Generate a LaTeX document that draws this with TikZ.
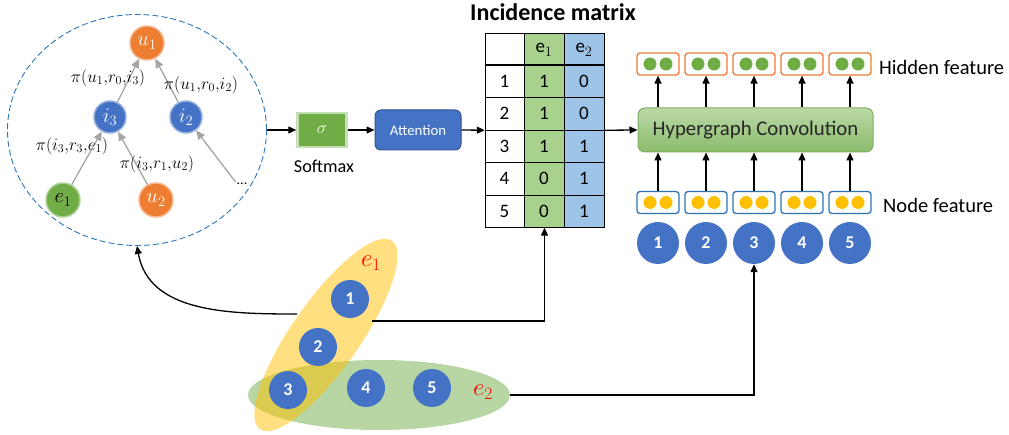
\documentclass[tikz,border=0pt]{standalone}
\usepackage{fontspec}
\setmainfont{Carlito}
\usetikzlibrary{arrows.meta,shapes.geometric}
\definecolor{corange}{HTML}{ED7D31}
\definecolor{cblue}{HTML}{4472C4}
\definecolor{cgreen}{HTML}{70AD47}
\definecolor{cyellow}{HTML}{FFC000}
\definecolor{clgreen}{HTML}{A9D18E}
\definecolor{clblue}{HTML}{9DC3E6}
\definecolor{cdarkblue}{HTML}{2F528F}
\definecolor{cdash}{HTML}{2E75B6}
\definecolor{cgrey}{HTML}{A5A5A5}
\definecolor{csoftb}{HTML}{C5E0B4}
\definecolor{chgctop}{HTML}{B9D9A6}
\definecolor{chgcbot}{HTML}{8CBB6C}
\definecolor{chgcbd}{HTML}{7FAD5F}
\begin{document}
\begin{tikzpicture}[x=1pt,y=-1pt,
  arr/.style={-{Triangle[length=8pt,width=7pt]}, line width=1.3pt},
  garr/.style={-{Triangle[length=9pt,width=8pt]}, line width=1.3pt, draw=cgrey},
  tnode/.style={circle, minimum size=34pt, inner sep=0pt, fill=#1, draw=#1!55!white, line width=1.5pt, text=white, font=\fontsize{21}{21}\selectfont},
  plab/.style={inner sep=0pt, font=\fontsize{16.5}{16.5}\selectfont},
  hnode/.style={circle, minimum size=38pt, inner sep=0pt, fill=cblue, text=white, font=\fontsize{18}{18}\selectfont\bfseries},
  fbox/.style={draw=#1, line width=1.3pt, rounded corners=3pt, fill=white, minimum width=42pt, minimum height=22pt, inner sep=0pt},
  dot/.style={circle, fill=#1, minimum size=13pt, inner sep=0pt},
  cell/.style={inner sep=0pt, font=\fontsize{19}{19}\selectfont},
  mlab/.style={inner sep=0pt, font=\fontsize{19}{19}\selectfont},
]
\useasboundingbox (0,0) rectangle (1009,435);

% ---------------- tree in dashed ellipse ----------------
\node[ellipse, draw=cdash, dash pattern=on 6pt off 3pt, line width=0.9pt, minimum width=259pt, minimum height=231pt, inner sep=0pt] (tree) at (137,130) {};
\node[tnode=corange] (u1) at (147,43) {$u_1$};
\node[tnode=cblue, minimum size=32pt] (i3) at (110,117) {$i_3$};
\node[tnode=cblue, minimum size=32pt] (i2) at (186,117) {$i_2$};
\node[tnode=cgreen, text=black] (e1) at (63,200) {$e_1$};
\node[tnode=corange] (u2) at (156,200) {$u_2$};
\node[inner sep=1pt, font=\fontsize{14}{14}\selectfont] (dots) at (242,184) {...};
\draw[garr] (i3) -- (u1);
\draw[garr] (i2) -- (u1);
\draw[garr] (e1) -- (i3);
\draw[garr] (u2) -- (i3);
\draw[garr] (dots.north west) -- (i2);
\node[plab] (l1) at (108,78) {$\pi(u_1{,}r_0{,}i_3)$};
\node[plab] (l2) at (201,85) {$\pi(u_1{,}r_0{,}i_2)$};
\node[plab] (l3) at (72,146) {$\pi(i_3{,}r_3{,}e_1)$};
\node[plab] (l4) at (157,164) {$\pi(i_3{,}r_1{,}u_2)$};

% ---------------- softmax and attention ----------------
\node[fill=cgreen, draw=csoftb, line width=2.5pt, minimum width=49pt, minimum height=34pt, inner sep=0pt, text=white, font=\fontsize{17}{17}\selectfont] (soft) at (322,130) {$\sigma$};
\node[inner sep=0pt, font=\fontsize{18.2}{18}\selectfont] (softlab) at (324,166) {Softmax};
\node[fill=cblue, draw=cdarkblue, line width=1pt, rounded corners=6pt, minimum width=86pt, minimum height=40pt, inner sep=0pt, text=white, font=\fontsize{14.8}{15}\selectfont] (att) at (418,130) {Attention};

% ---------------- incidence matrix ----------------
\fill[clgreen] (524,33) rectangle (564,227.5);
\fill[clblue] (564,33) rectangle (604,227.5);
\node[minimum width=119pt, minimum height=194.5pt, inner sep=0pt] (mat) at (544.5,130.25) {};
\draw[line width=0.9pt] (485,33) rectangle (604,227.5);
\foreach \y in {97.5,130,162.5,195} \draw[line width=0.9pt] (485,\y) -- (604,\y);
\draw[line width=1.8pt] (485,65) -- (604,65);
\foreach \x in {524,564} \draw[line width=0.9pt] (\x,33) -- (\x,227.5);
\node[font=\fontsize{24}{24}\selectfont\bfseries, inner sep=0pt] (title) at (553,12) {Incidence matrix};
\node[mlab] (h1) at (544,50) {$\mathrm{e}_1$};
\node[mlab] (h2) at (584,50) {$\mathrm{e}_2$};
\foreach \r/\a/\b [count=\i] in {1/1/0,2/1/0,3/1/1,4/0/1,5/0/1}{
  \node[cell] (r\i) at (504.5,{65+32.5*(\i-0.5)}) {\r};
  \node[cell] (a\i) at (544,{65+32.5*(\i-0.5)}) {\a};
  \node[cell] (b\i) at (584,{65+32.5*(\i-0.5)}) {\b};
}

% ---------------- hypergraph convolution ----------------
\node[draw=chgcbd, line width=1pt, rounded corners=7pt, top color=chgctop, bottom color=chgcbot, minimum width=235pt, minimum height=44pt, inner sep=0pt, font=\fontsize{20.8}{21}\selectfont, text={black!85}] (hgc) at (755.5,130) {Hypergraph Convolution};
\foreach \i/\x in {1/658,2/706,3/754,4/802,5/850}{
  \node[fbox=corange] (hf\i) at (\x,64) {};
  \node[dot=cgreen] (hfa\i) at (\x-8,64) {};
  \node[dot=cgreen] (hfb\i) at (\x+8,64) {};
  \node[fbox=cdash] (nf\i) at (\x,202.5) {};
  \node[dot=cyellow] (nfa\i) at (\x-8,202.5) {};
  \node[dot=cyellow] (nfb\i) at (\x+8,202.5) {};
  \node[hnode, minimum size=42pt] (n\i) at (\x,243) {\i};
  \draw[arr] (nf\i.north) -- (nf\i.north |- hgc.south);
  \draw[arr] (hf\i.south |- hgc.north) -- (hf\i.south);
}
\node[anchor=west, inner sep=0pt, font=\fontsize{20.5}{20}\selectfont] (hflab) at (879,67) {Hidden feature};
\node[anchor=west, inner sep=0pt, font=\fontsize{20.5}{20}\selectfont] (nflab) at (883,205) {Node feature};

% ---------------- hypergraph ----------------
\node[ellipse, fill=cgreen, fill opacity=0.5, minimum width=262pt, minimum height=70pt, inner sep=0pt] (gell) at (379,395) {};
\node[ellipse, fill=cyellow, fill opacity=0.5, minimum width=230pt, minimum height=68pt, inner sep=0pt, rotate=55] (yell) at (326,335) {};
\node[hnode] (p1) at (350,299) {1};
\node[hnode] (p2) at (318,347) {2};
\node[hnode] (p3) at (288,390) {3};
\node[hnode] (p4) at (366,388) {4};
\node[hnode] (p5) at (432,388) {5};
\node[inner sep=0pt, text=red, font=\fontsize{24}{24}\selectfont] (e1lab) at (371,263) {$e_1$};
\node[inner sep=0pt, text=red, font=\fontsize{24}{24}\selectfont] (e2lab) at (483,392) {$e_2$};

% ---------------- connectors ----------------
\draw[arr] (tree.east) -- (soft.west);
\draw[arr] (soft.east) -- (att.west);
\draw[arr] (att.east) -- (mat.west);
\draw[arr] (mat.east) -- (hgc.west);
\coordinate (ys) at (372,321);
\coordinate (yc) at (297,314);
\draw[arr] (ys) -| (mat.south);
\draw[arr] (yc) to[out=180, in=-80] (tree.south);
\draw[arr] (gell.east) -| (n3.south);
\end{tikzpicture}
\end{document}
